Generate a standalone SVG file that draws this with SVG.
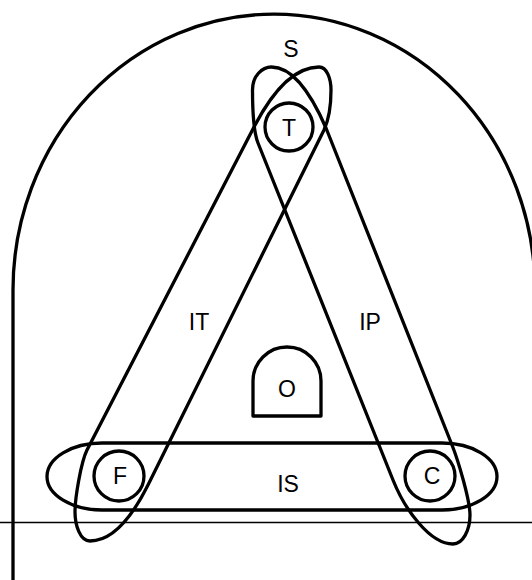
<svg xmlns="http://www.w3.org/2000/svg" width="532" height="580" viewBox="0 0 532 580">
  <style>
    .shape { fill: none; stroke: #000; stroke-width: 3.3; stroke-linejoin: round; }
    .thin { fill: none; stroke: #000; stroke-width: 1.6; }
    .lbl { font-family: "Liberation Sans", Arial, sans-serif; font-size: 23px; fill: #000; text-anchor: middle; }
  </style>
  <rect width="532" height="580" fill="#fff"/>
  <g id="S">
    <path class="shape" d="M 13,580 V 290 A 261 276 0 0 1 535,290 V 580"/>
    <text class="lbl" x="291" y="57">S</text>
  </g>
  <g id="IT">
    <path class="shape" d="M 319,67 C 327,67 331,79 331,90 C 331,104 330,117 324,130 L 148,485 C 135,511 115,541 90,541 C 80,541 75,525 75,512 C 75,498 81,462 87,450 L 254,127 C 280,77 303,67 319,67 Z"/>
    <text class="lbl" x="199" y="330">IT</text>
  </g>
  <g id="IP">
    <path class="shape" d="M 271.5,67 C 262,67 252.5,76 252.5,90 C 252.5,110 254,133 258,143 L 393,480 C 405,510 430,544 453,544 C 463,544 470,530 470,515 C 470,500 458,460 452,445 L 326,128 C 306,82 288,67 271.5,67 Z"/>
    <text class="lbl" x="370" y="330">IP</text>
  </g>
  <g id="IS">
    <path class="shape" d="M 102,443 H 442 A 55 33.5 0 0 1 442,510 H 102 A 55 33.5 0 0 1 102,443 Z"/>
    <text class="lbl" x="288" y="492">IS</text>
  </g>
  <g id="T">
    <circle class="shape" cx="289" cy="127" r="24"/>
    <text class="lbl" x="289" y="136">T</text>
  </g>
  <g id="F">
    <circle class="shape" cx="119" cy="476" r="25"/>
    <text class="lbl" x="120" y="484">F</text>
  </g>
  <g id="C">
    <circle class="shape" cx="430" cy="476" r="25"/>
    <text class="lbl" x="432" y="484">C</text>
  </g>
  <g id="O">
    <path class="shape" d="M 253,416 V 381 A 34 34 0 0 1 321,381 V 416 Z"/>
    <text class="lbl" x="287" y="397">O</text>
  </g>
  <g id="connectors">
    <line class="thin" x1="0" y1="522.5" x2="532" y2="522.5"/>
  </g>
</svg>
